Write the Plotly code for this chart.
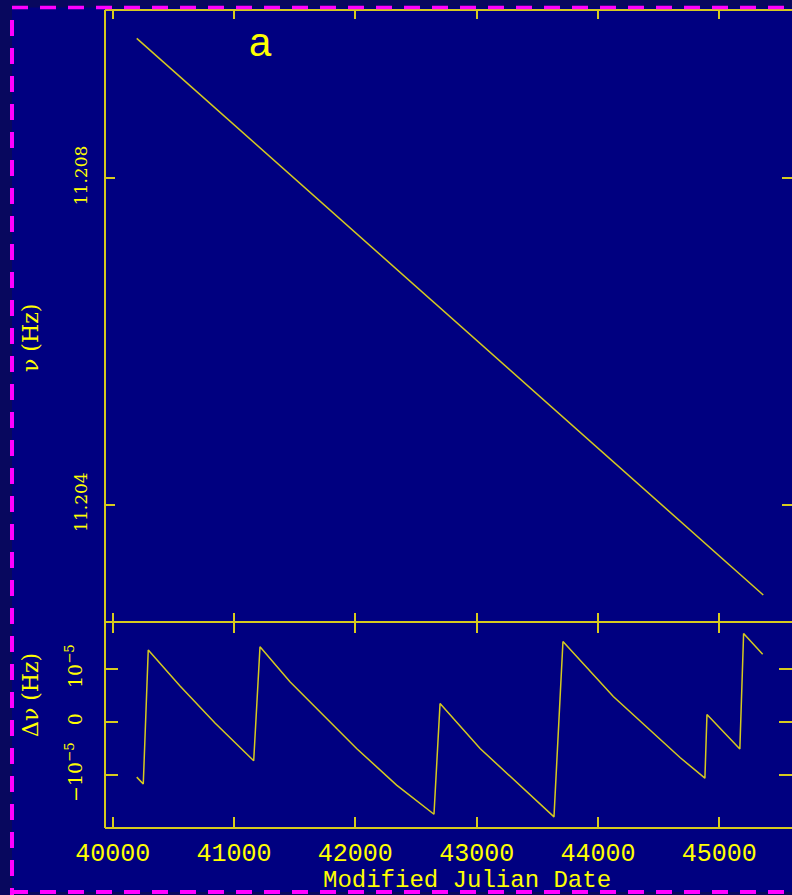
import plotly.graph_objects as go

# ---------------- data ----------------
# Panel a: spin frequency of the pulsar vs MJD
nu_mjd = [40198, 41000, 42000, 43000, 44000, 45362]
nu_hz = [11.209710, 11.208651, 11.207332, 11.206012, 11.204692, 11.202894]

# Lower panel: frequency residual (Hz) vs MJD
dnu_mjd = [40198, 40252, 40293, 40555, 40843, 41162,
           41214, 41461, 42010, 42340, 42648,
           42698, 43028, 43637,
           43711, 44126, 44676, 44881,
           44898, 45169,
           45200, 45357]
dnu_hz = [-1.04e-5, -1.17e-5, 1.36e-5, 0.68e-5, -0.02e-5, -0.73e-5,
          1.42e-5, 0.76e-5, -0.50e-5, -1.19e-5, -1.74e-5,
          0.35e-5, -0.50e-5, -1.79e-5,
          1.52e-5, 0.48e-5, -0.67e-5, -1.06e-5,
          0.14e-5, -0.51e-5,
          1.67e-5, 1.28e-5]

x_range = [39936.5, 45598.8]
nu_range = [11.2025637, 11.2100570]
dnu_range = [-2.0e-5, 1.8868e-5]
nu_ticks = [11.204, 11.208]
nu_ticktext = ["11.204", "11.208"]
dnu_ticks = [-1e-5, 0, 1e-5]
dnu_ticktext = ["\u221210<sup>\u22125</sup>", "0", "10<sup>\u22125</sup>"]

# ---------------- style ----------------
W, H = 792, 895
L, R, T, B = 105, 0, 10, 67
PW, PH = W - L - R, H - T - B
split = 206 / PH

BG = "#000080"
OUTER = "#08085e"
YEL = "#ffff00"
AXC = "#d6ca1e"
MAG = "#ff00ff"


def fx(px):
    return (px - L) / PW


def fy(py):
    return (H - B - py) / PH


fig = go.Figure()
fig.add_trace(go.Scatter(x=nu_mjd, y=nu_hz, xaxis="x2", yaxis="y2", mode="lines",
                         line=dict(color=AXC, width=1.5), hoverinfo="skip"))
fig.add_trace(go.Scatter(x=dnu_mjd, y=dnu_hz, xaxis="x", yaxis="y", mode="lines",
                         line=dict(color=AXC, width=1.5), hoverinfo="skip"))

common_axis = dict(showgrid=False, zeroline=False, showline=True,
                   linecolor="rgba(0,0,0,0)", mirror="ticks", ticks="inside",
                   tickcolor=AXC, tickwidth=2)

fig.update_layout(
    width=W, height=H,
    margin=dict(l=L, r=R, t=T, b=B, pad=0),
    paper_bgcolor=OUTER, plot_bgcolor=BG,
    showlegend=False, hovermode=False,
    xaxis=dict(domain=[0, 1], anchor="y", range=x_range, tick0=40000, dtick=1000,
               tickformat="d", ticklen=11,
               tickfont=dict(family="Liberation Mono", size=25, color=YEL),
               ticklabelstandoff=2, **common_axis),
    xaxis2=dict(domain=[0, 1], anchor="y2", range=x_range, tick0=40000, dtick=1000,
                matches="x", showticklabels=False, ticklen=9, **common_axis),
    yaxis=dict(domain=[0, split], anchor="x", range=dnu_range, tickvals=dnu_ticks,
               ticktext=dnu_ticktext, tickangle=-90, ticklen=13,
               tickfont=dict(family="DejaVu Serif", size=19, color=YEL),
               ticklabelstandoff=14, **common_axis),
    yaxis2=dict(domain=[split, 1], anchor="x2", range=nu_range, tickvals=nu_ticks,
                ticktext=nu_ticktext, tickangle=-90, ticklen=10,
                tickfont=dict(family="DejaVu Serif", size=17, color=YEL),
                ticklabelstandoff=10, **common_axis),
)

shapes = []
# inner background (inside the dashed border)
shapes.append(dict(type="rect", xref="paper", yref="paper", layer="below",
                   x0=fx(12), x1=fx(800), y0=fy(892), y1=fy(7.5),
                   fillcolor=BG, line=dict(width=0)))
# frame lines
for (x0, y0, x1, y1) in [(0, 0, 0, 1), (0, 1, 1, 1), (0, split, 1, split), (0, 0, 1, 0)]:
    shapes.append(dict(type="line", xref="paper", yref="paper", layer="above",
                       x0=x0, y0=y0, x1=x1, y1=y1, line=dict(color=AXC, width=2)))
# magenta dashed border
dash = "16px,12px"
shapes.append(dict(type="line", xref="paper", yref="paper", layer="above",
                   x0=fx(12), x1=fx(800), y0=fy(7.5), y1=fy(7.5),
                   line=dict(color=MAG, width=3.5, dash=dash)))
shapes.append(dict(type="line", xref="paper", yref="paper", layer="above",
                   x0=fx(12), x1=fx(800), y0=fy(892), y1=fy(892),
                   line=dict(color=MAG, width=4, dash=dash)))
shapes.append(dict(type="line", xref="paper", yref="paper", layer="above",
                   x0=fx(12), x1=fx(12), y0=fy(20), y1=fy(895),
                   line=dict(color=MAG, width=4, dash=dash)))
fig.update_layout(shapes=shapes)

ann = [
    dict(text="a", x=fx(260), y=fy(42), font=dict(family="Liberation Sans", size=40, color=YEL)),
    dict(text="\u03bd (Hz)", x=fx(31), y=fy(338), textangle=-90,
         font=dict(family="DejaVu Serif", size=22, color=YEL)),
    dict(text="\u0394\u03bd (Hz)", x=fx(30), y=fy(695), textangle=-90,
         font=dict(family="DejaVu Serif", size=22, color=YEL)),
    dict(text="Modified Julian Date", x=fx(467), y=fy(880.5),
         font=dict(family="Liberation Mono", size=24, color=YEL)),
]
for a in ann:
    a.update(xref="paper", yref="paper", showarrow=False, xanchor="center", yanchor="middle")
fig.update_layout(annotations=ann)

fig.write_html("out.html", config={"displayModeBar": False},
               post_script="document.body.style.margin='0';document.body.style.background='" + OUTER + "';")
